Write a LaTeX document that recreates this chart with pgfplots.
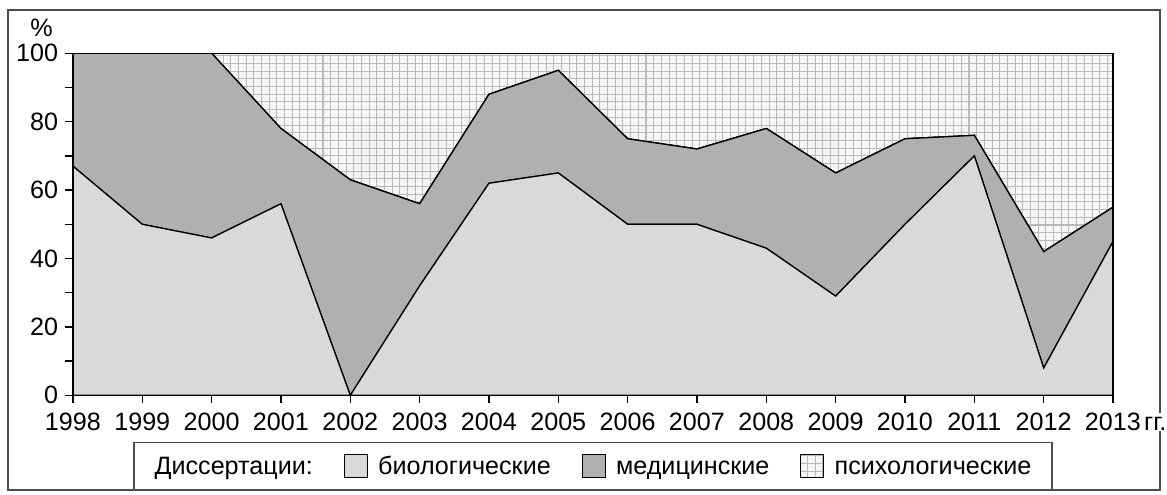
\documentclass[border=0pt]{standalone}
\usepackage{fontspec}
\setmainfont{Liberation Sans}
\usepackage{pgfplots}
\pgfplotsset{compat=1.18}
\usetikzlibrary{patterns}
\newcommand\f{\fontsize{9.8}{11}\selectfont}

% values in percent
\pgfplotstableread{
year bio med psy
1998 67 33 0
1999 50 50 0
2000 46 54 0
2001 56 22 22
2002 0 63 37
2003 32 24 44
2004 62 26 12
2005 65 30 5
2006 50 25 25
2007 50 22 28
2008 43 35 22
2009 29 36 35
2010 50 25 25
2011 70 6 24
2012 8 34 58
2013 45 10 45
}\data

\begin{document}
\begin{tikzpicture}
\begin{axis}[
    scale only axis,
    width=14.26cm, height=4.69cm,
    xmin=1998, xmax=2013, ymin=0, ymax=100,
    xtick={1998,...,2013},
    ytick={0,20,...,100},
    minor ytick={10,30,...,90},
    tick align=outside, tick pos=left,
    major tick length=0.11cm, minor tick length=0.11cm,
    every tick/.style={black, line width=0.5pt},
    axis line style={black, line width=0.5pt},
    /pgf/number format/assume math mode=true,
    x tick label style={/pgf/number format/1000 sep={}, yshift=-0.01cm},
    y tick label style={xshift=0.03cm},
    tick label style={font=\f},
    stack plots=y,
    area style,
    axis on top,
    legend style={at={(0.5,-0.135)}, anchor=north, legend columns=4,
        draw=gray!60!black, line width=0.6pt, font=\f,
        inner xsep=4pt, inner ysep=2pt,
        nodes={text height=1.6ex, text depth=0.4ex, inner xsep=4pt},
        /tikz/every even column/.append style={column sep=8pt}},
    legend image code/.code={\draw[#1, line width=0.4pt] (0cm,-0.16cm) rectangle (0.32cm,0.16cm);},
  ]
  \addlegendimage{empty legend}
  \addlegendentry{Диссертации:}
  \addplot[draw=black, line width=0.5pt, fill=gray!30] table[x=year, y=bio] {\data} \closedcycle;
  \addlegendentry{биологические}
  \addplot[draw=black, line width=0.5pt, fill=gray!62] table[x=year, y=med] {\data} \closedcycle;
  \addlegendentry{медицинские}
  \addplot[draw=black, line width=0.5pt, fill=gray!8, postaction={pattern=grid, pattern color=gray!55}] table[x=year, y=psy] {\data} \closedcycle;
  \addlegendentry{психологические}
\end{axis}
\draw[gray!60!black, line width=0.8pt]
  ([xshift=-0.89cm, yshift=-1.30cm]current axis.south west)
  rectangle ([xshift=0.64cm, yshift=0.59cm]current axis.north east);
\node[font=\f, anchor=north west, inner sep=0pt, fill=white] at ([xshift=0.42cm, yshift=-0.235cm]current axis.south east) {\vphantom{0}гг.};
\node[font=\f, anchor=south, inner sep=0pt] at ([xshift=-0.43cm, yshift=0.22cm]current axis.north west) {\%};
\path ([xshift=-1.0cm, yshift=-1.355cm]current axis.south west)
  rectangle ([xshift=0.74cm, yshift=0.73cm]current axis.north east);
\end{tikzpicture}
\end{document}
